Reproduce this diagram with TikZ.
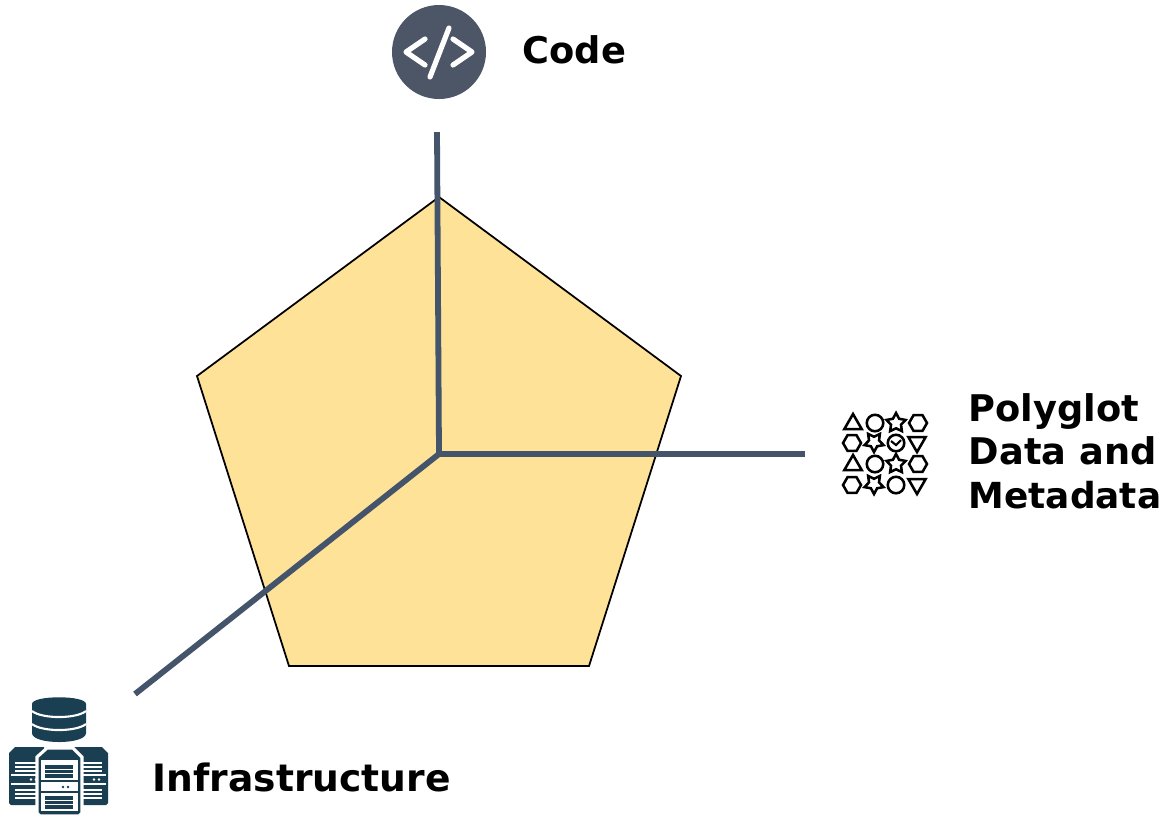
\documentclass[tikz,border=0pt]{standalone}
\usepackage{fontspec}
\setmainfont{DejaVu Sans}
\usetikzlibrary{shapes.geometric}
\definecolor{padyellow}{HTML}{FEE298}
\definecolor{axisblue}{HTML}{44546A}
\definecolor{codegrey}{HTML}{4D5666}
\definecolor{serverblue}{HTML}{1A3E52}
\tikzset{
  axisline/.style={line width=0.058cm, axisblue},
  label/.style={anchor=west, inner sep=0pt, align=left, font=\fontsize{10.45}{12.4}\selectfont\bfseries},
  glyph/.style={draw=black, line width=0.72pt, inner sep=0pt, outer sep=0pt},
  tri/.style={glyph, regular polygon, regular polygon sides=3, minimum size=0.2cm},
  hex/.style={glyph, regular polygon, regular polygon sides=6, minimum size=0.18cm},
  ring/.style={glyph, circle, minimum size=0.165cm},
  starry/.style={glyph, star, star points=5, star point ratio=1.9, minimum size=0.2cm},
  whitebar/.style={white, line width=0.55pt},
  codestroke/.style={white, line width=0.052cm, line cap=round, line join=round}
}
\begin{document}
\begin{tikzpicture}[x=0.01cm,y=-0.01cm]
\useasboundingbox (0,0) rectangle (1165,817);
% pentagon
\draw[fill=padyellow, line width=0.5pt] (439,197) -- (681,376) -- (589,666) -- (289,666) -- (197,376) -- cycle;
% axes
\coordinate (hub) at (439,454);
\coordinate (codeend) at (437,132);
\coordinate (dataend) at (805,454);
\coordinate (infraend) at (135,694);
\draw[axisline] (codeend) -- (hub);
\draw[axisline] (dataend) -- (hub);
\draw[axisline] (infraend) -- (hub);
% code icon
\fill[codegrey] (439,52) circle [radius=47];
\draw[codestroke] (425,39) -- (406,52) -- (425,65);
\draw[codestroke] (453,39) -- (472,52) -- (453,65);
\draw[codestroke] (449,28) -- (430,77);
% data icon
\node[tri] (g11) at (853,424) {};
\node[ring] (g12) at (875,423) {};
\node[starry] (g13) at (896,423) {};
\node[hex] (g14) at (918,423) {};
\node[hex] (g21) at (852,443) {};
\node[starry, rotate=180] (g22) at (874,442) {};
\node[ring] (g23) at (896,443) {};
\node[tri, rotate=180] (g24) at (917,442) {};
\node[tri] (g31) at (853,465) {};
\node[ring] (g32) at (875,464) {};
\node[starry] (g33) at (896,464) {};
\node[hex] (g34) at (918,464) {};
\node[hex] (g41) at (852,485) {};
\node[starry, rotate=180] (g42) at (874,484) {};
\node[ring] (g43) at (896,485) {};
\node[tri, rotate=180] (g44) at (917,484) {};
\draw[line width=0.6pt] (891,441) -- (896,445) -- (901,440);
% infrastructure icon
\fill[serverblue] (32,704) .. controls (32,695) and (86,695) .. (86,704) -- (86,733) .. controls (86,745) and (32,745) .. (32,733) -- cycle;
\draw[white, line width=0.6pt] (32,711) .. controls (42,719) and (76,719) .. (86,711);
\draw[white, line width=0.6pt] (32,724) .. controls (42,732) and (76,732) .. (86,724);
\fill[serverblue] (9,753) -- (15,747) -- (44,747) -- (44,805) -- (11,805) -- (9,803) -- cycle;
\fill[serverblue] (108,753) -- (102,747) -- (74,747) -- (74,805) -- (106,805) -- (108,803) -- cycle;
\foreach \y in {763,767,771,790,794,798} {
  \draw[whitebar] (15,\y) -- (38,\y);
  \draw[whitebar] (80,\y) -- (102,\y);
}
\draw[whitebar] (11,775) -- (38,775);
\draw[whitebar] (11,784) -- (38,784);
\draw[whitebar] (80,775) -- (106,775);
\draw[whitebar] (80,784) -- (106,784);
\fill[white] (31,779.5) circle [radius=1.3] (36,779.5) circle [radius=1.3];
\fill[white] (94,779.5) circle [radius=1.3] (99,779.5) circle [radius=1.3];
\draw[white, fill=serverblue, line width=0.9pt] (37,757) -- (47,748) -- (73,748) -- (82,757) -- (82,813) -- (79,816) -- (40,816) -- (37,813) -- cycle;
\fill[white] (41,760) rectangle (78,811);
\fill[serverblue] (45,765) rectangle (73,778);
\fill[serverblue] (45,796) rectangle (73,809);
\draw[serverblue, line width=0.7pt] (41,781) -- (78,781);
\draw[serverblue, line width=0.7pt] (41,792) -- (78,792);
\foreach \y in {769.5,773.5,800.5,804.5} {
  \draw[white, line width=0.4pt] (45,\y) -- (73,\y);
}
\fill[serverblue] (63,787) circle [radius=1.3] (68,787) circle [radius=1.3];
% labels
\node[label] (codelabel) at (522,50) {Code};
\node[label] (datalabel) at (968,451) {Polyglot\\Data and\\{\fontsize{10.2}{12.4}\selectfont Metadata}};
\node[label, font=\fontsize{10.7}{12.4}\selectfont\bfseries] (infralabel) at (152,777) {Infrastructure};
\end{tikzpicture}
\end{document}
